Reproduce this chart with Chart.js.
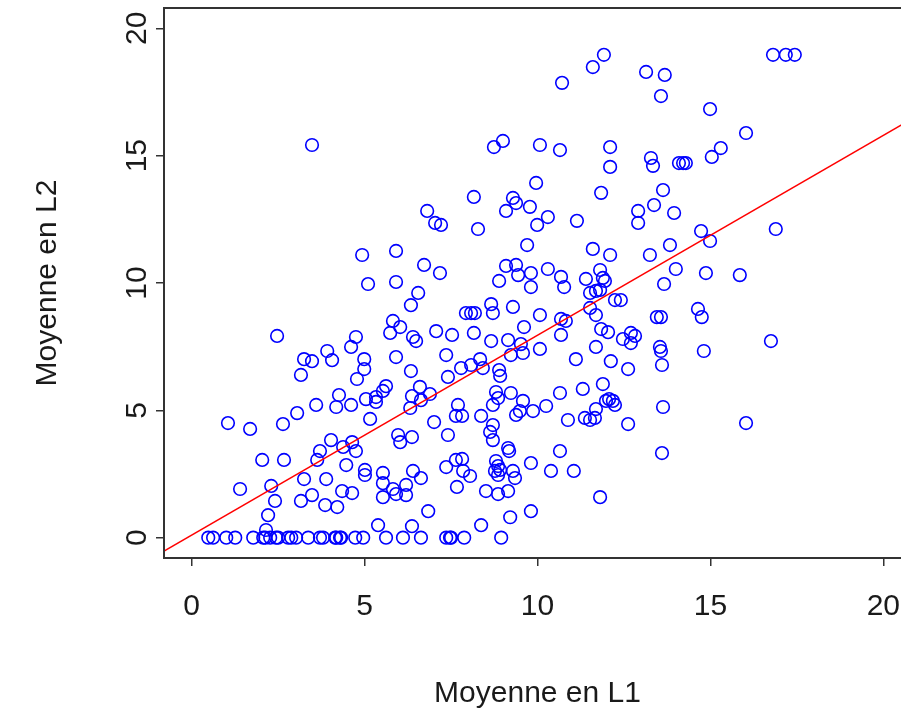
<!DOCTYPE html>
<html>
<head>
<meta charset="utf-8">
<script src="https://cdn.jsdelivr.net/npm/chart.js@4/dist/chart.umd.min.js"></script>
<style>
  html, body { margin: 0; padding: 0; background: #fff; overflow: hidden; }
  #wrap { width: 920px; height: 714px; }
</style>
</head>
<body>
<div id="wrap"><canvas id="plot" width="920" height="714"></canvas></div>
<script>
// Moyenne en L1 (x) / Moyenne en L2 (y)
const moyL1 = [
  16.81, 17.18, 17.44, 11.92, 11.60, 10.71, 13.14, 13.68, 13.57, 14.99,
  16.03, 15.30, 15.04, 3.48, 8.74, 9.00, 10.07, 10.65, 12.10, 13.28,
  13.34, 12.10, 14.09, 14.21, 14.29, 9.96, 8.16, 9.29, 9.38, 9.09,
  9.78, 11.84, 13.63, 13.37, 12.91, 12.91, 13.95, 6.81, 7.04, 7.21,
  8.28, 10.30, 9.99, 11.14, 14.73, 14.99, 16.89, 13.83, 9.70, 11.60,
  12.10, 13.25, 4.93, 5.91, 6.72, 7.18, 9.09, 9.38, 9.44, 9.81,
  10.30, 10.68, 11.40, 11.81, 11.89, 11.95, 8.89, 9.81, 10.77, 14.00,
  14.87, 15.85, 13.66, 5.10, 5.91, 6.34, 2.47, 4.75, 4.61, 5.82,
  6.03, 5.74, 6.40, 6.49, 3.92, 4.06, 3.25, 3.48, 3.16, 4.99,
  4.99, 4.78, 5.91, 6.34, 5.62, 5.53, 5.33, 5.33, 6.37, 4.26,
  5.04, 3.60, 4.18, 4.61, 3.05, 2.64, 1.05, 1.69, 5.16, 6.32,
  6.55, 11.52, 11.69, 11.81, 12.24, 12.41, 8.66, 8.71, 7.93, 8.08,
  8.19, 9.29, 10.07, 10.68, 10.82, 11.52, 11.69, 13.45, 13.57, 9.61,
  11.84, 12.04, 10.68, 12.47, 12.70, 12.82, 12.70, 7.07, 7.53, 8.16,
  8.66, 9.15, 9.52, 9.58, 10.07, 9.23, 11.69, 13.54, 13.57, 7.36,
  8.34, 8.08, 8.42, 7.79, 11.11, 12.12, 12.62, 13.60, 8.89, 8.92,
  7.41, 6.60, 6.89, 6.63, 8.80, 8.86, 8.71, 9.23, 9.58, 10.65,
  11.31, 11.89, 12.07, 12.18, 12.24, 11.98, 11.69, 13.63, 7.70, 7.64,
  7.82, 7.01, 8.37, 9.38, 9.49, 9.87, 10.25, 8.71, 10.88, 11.37,
  11.52, 11.66, 12.62, 14.64, 14.75, 16.75, 14.81, 16.03, 4.03, 4.38,
  4.64, 4.75, 3.71, 3.63, 2.04, 2.67, 4.47, 5.01, 5.01, 5.97,
  6.03, 6.37, 5.53, 6.40, 3.25, 3.89, 1.40, 2.30, 2.41, 2.21,
  3.16, 3.48, 3.86, 4.21, 4.35, 4.64, 5.53, 5.82, 5.91, 5.53,
  6.20, 6.20, 5.39, 6.37, 2.15, 7.41, 8.63, 8.71, 9.15, 9.18,
  10.65, 13.60, 9.81, 10.39, 11.05, 7.64, 7.82, 7.36, 6.63, 7.85,
  8.05, 8.80, 8.86, 8.77, 8.86, 8.92, 9.29, 9.35, 7.67, 8.51,
  8.86, 9.15, 11.81, 6.84, 9.81, 9.21, 8.37,
  0.48, 0.62, 1.00, 1.26, 1.78, 2.07, 2.13, 2.27, 2.44, 2.50,
  2.79, 2.88, 3.02, 3.37, 3.71, 3.80, 4.15, 4.18, 4.29, 4.32,
  4.73, 4.96, 5.62, 6.11, 6.63, 7.36, 7.47, 7.50, 7.88, 8.95
];
const moyL2 = [
  18.96, 18.96, 18.96, 18.96, 18.48, 17.86, 18.29, 18.17, 17.34, 16.83,
  15.89, 15.30, 14.95, 15.42, 15.34, 15.58, 15.42, 15.22, 15.34, 14.91,
  14.60, 14.56, 14.71, 14.71, 14.71, 13.93, 13.38, 13.34, 13.14, 12.83,
  12.99, 13.54, 13.65, 13.06, 12.83, 12.36, 12.75, 12.83, 12.36, 12.28,
  12.12, 12.59, 12.28, 12.44, 12.04, 11.65, 12.12, 11.49, 11.49, 11.34,
  11.10, 11.10, 11.10, 11.26, 10.71, 10.39, 10.67, 10.71, 10.31, 10.39,
  10.55, 10.24, 10.16, 10.51, 10.20, 10.08, 10.08, 9.84, 9.84, 10.55,
  10.39, 10.31, 9.96, 9.96, 10.04, 9.13, 7.92, 7.88, 7.49, 8.51,
  8.27, 8.04, 7.88, 7.72, 7.33, 6.97, 7.01, 6.93, 6.39, 7.01,
  6.62, 6.23, 7.09, 6.54, 5.95, 5.76, 5.52, 5.33, 5.56, 5.60,
  5.44, 5.21, 5.13, 5.21, 4.89, 4.46, 4.50, 4.27, 4.66, 5.09,
  9.61, 9.61, 9.69, 9.73, 9.33, 9.33, 9.17, 8.82, 8.82, 8.82,
  8.82, 9.06, 8.74, 8.59, 8.51, 9.02, 8.74, 8.66, 8.66, 8.27,
  8.19, 8.07, 7.96, 7.80, 8.04, 7.92, 7.64, 8.11, 7.96, 8.04,
  7.72, 7.76, 7.60, 7.25, 7.41, 7.17, 7.49, 7.49, 7.33, 7.17,
  7.01, 6.78, 6.66, 6.66, 7.01, 6.93, 6.62, 6.78, 6.58, 6.35,
  6.31, 5.92, 5.64, 5.40, 5.72, 5.48, 5.21, 5.68, 5.37, 5.68,
  5.84, 6.03, 5.44, 5.37, 5.21, 5.37, 5.05, 5.13, 5.21, 4.78,
  4.78, 4.54, 4.78, 4.82, 4.97, 4.97, 5.17, 4.42, 4.62, 4.70,
  4.62, 4.70, 4.46, 8.98, 8.66, 7.72, 7.33, 4.50, 3.83, 3.56,
  3.75, 3.40, 3.40, 3.05, 3.05, 3.05, 2.85, 2.66, 2.46, 4.03,
  3.75, 3.95, 2.54, 2.62, 2.30, 2.30, 1.91, 2.03, 1.44, 0.88,
  1.44, 1.67, 1.28, 1.20, 1.83, 1.75, 2.14, 1.91, 1.71, 1.59,
  2.07, 1.67, 0.49, 0.45, 0.30, 4.03, 4.15, 3.83, 3.52, 3.40,
  3.40, 3.32, 2.93, 2.62, 2.62, 3.05, 3.09, 2.77, 2.34, 2.62,
  2.42, 3.01, 2.81, 2.62, 2.46, 2.66, 2.62, 2.34, 1.99, 1.83,
  1.71, 1.83, 1.59, 1.04, 1.04, 0.80, 0.49,
  0, 0, 0, 0, 0, 0, 0, 0, 0, 0,
  0, 0, 0, 0, 0, 0, 0, 0, 0, 0,
  0, 0, 0, 0, 0, 0, 0, 0, 0, 0
];

// regression line abline(lm(L2 ~ L1))
const interceptL2 = 0.1;
const slopeL2 = 0.785;

const xTicks = [0, 5, 10, 15, 20];
const yTicks = [0, 5, 10, 15, 20];
const xRange = [-0.8, 20.8];
const yRange = [-0.8, 20.8];

const points = moyL1.map((x, i) => ({ x: x, y: moyL2[i] }));
const fitLine = xRange.map(x => ({ x: x, y: interceptL2 + slopeL2 * x }));

const boxPlugin = {
  id: 'box',
  afterDraw(chart) {
    const a = chart.chartArea;
    const c = chart.ctx;
    c.save();
    c.strokeStyle = '#333';
    c.lineWidth = 2;
    c.strokeRect(a.left, a.top, a.right - a.left, a.bottom - a.top);
    c.restore();
  }
};

const txt = '#1a1a1a';
const fontFam = '"Liberation Sans", Arial, sans-serif';

new Chart(document.getElementById('plot'), {
  type: 'scatter',
  data: {
    datasets: [
      {
        data: fitLine,
        showLine: true,
        borderColor: '#ff0000',
        borderWidth: 1.5,
        pointRadius: 0,
        fill: false
      },
      {
        data: points,
        pointStyle: 'circle',
        pointRadius: 6.3,
        pointBorderWidth: 1.6,
        pointBorderColor: '#0000ff',
        pointBackgroundColor: 'rgba(0,0,0,0)'
      }
    ]
  },
  options: {
    responsive: false,
    animation: false,
    layout: { padding: { top: 8, right: 9, left: 0, bottom: 0 } },
    plugins: {
      legend: { display: false },
      tooltip: { enabled: false }
    },
    scales: {
      x: {
        type: 'linear',
        min: xRange[0],
        max: xRange[1],
        afterBuildTicks: s => { s.ticks = xTicks.map(v => ({ value: v })); },
        afterFit: s => { s.height = 156; s.paddingLeft = 0; s.paddingRight = 0; },
        grid: { drawOnChartArea: false, drawTicks: true, tickLength: 8, color: '#333', lineWidth: 1.5 },
        border: { display: true, color: '#333', width: 2 },
        ticks: {
          color: txt,
          padding: 23,
          maxRotation: 0,
          font: { family: fontFam, size: 30 },
          callback: v => v
        },
        title: {
          display: true,
          text: 'Moyenne en L1',
          color: txt,
          font: { family: fontFam, size: 30 },
          padding: { bottom: 2 }
        }
      },
      y: {
        type: 'linear',
        min: yRange[0],
        max: yRange[1],
        afterBuildTicks: s => { s.ticks = yTicks.map(v => ({ value: v })); },
        afterFit: s => { s.width = 164; s.paddingTop = 0; s.paddingBottom = 0; },
        grid: { drawOnChartArea: false, drawTicks: true, tickLength: 8, color: '#333', lineWidth: 1.5 },
        border: { display: true, color: '#333', width: 2 },
        ticks: {
          color: txt,
          padding: 2,
          minRotation: 90,
          maxRotation: 90,
          crossAlign: 'center',
          font: { family: fontFam, size: 30 },
          callback: v => v
        },
        title: {
          display: true,
          text: 'Moyenne en L2',
          color: txt,
          font: { family: fontFam, size: 30 },
          padding: { top: 30 }
        }
      }
    }
  },
  plugins: [boxPlugin]
});
</script>
</body>
</html>
